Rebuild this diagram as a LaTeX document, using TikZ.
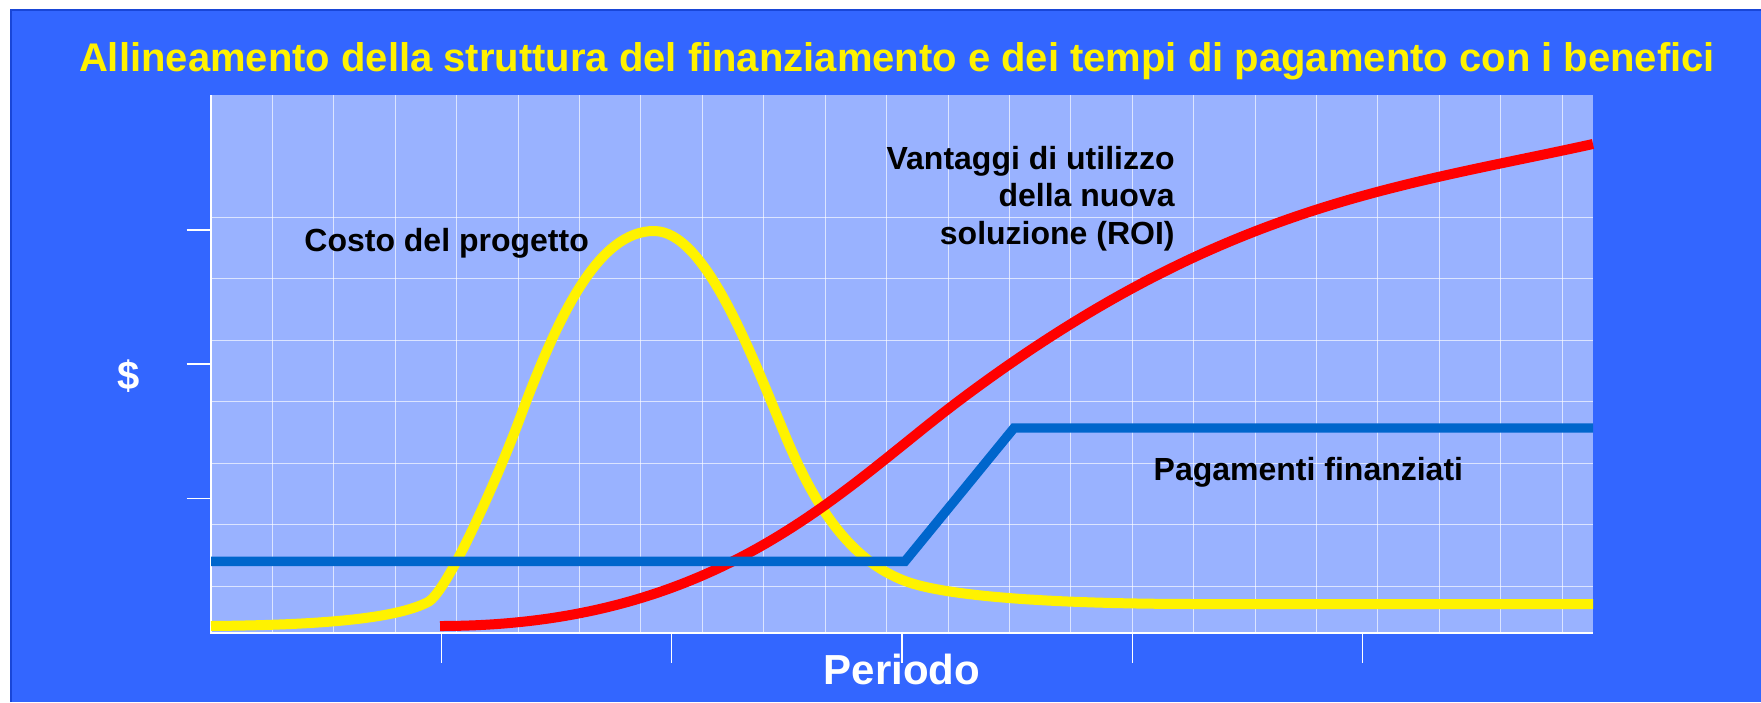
\documentclass[tikz,border=0pt]{standalone}
\usepackage{fontspec}
\setmainfont{Liberation Sans}
\definecolor{slideblue}{RGB}{51,102,255}
\definecolor{edgeblue}{RGB}{25,70,215}
\definecolor{plotblue}{RGB}{153,178,255}
\definecolor{payblue}{RGB}{0,102,204}

\begin{document}
\begin{tikzpicture}[x=0.5pt,y=-0.5pt,
	gridline/.style={white,opacity=0.65,line width=0.5pt},
	axtick/.style={white,line width=0.8pt},
	curvelabel/.style={font=\bfseries\fontsize{16}{18.65}\selectfont,inner sep=0pt}]
\useasboundingbox (0,0) rectangle (1761,702);
\fill[white] (0,0) rectangle (1761,702);
\fill[slideblue] (11,10) rectangle (1761,702);
\draw[edgeblue,line width=1pt] (11,702) -- (11,10) -- (1761,10);
\node[yellow,font=\bfseries\fontsize{20}{24}\selectfont,anchor=base] (titolo) at (897,71) {Allineamento della struttura del finanziamento e dei tempi di pagamento con i benefici};
\fill[plotblue] (211,95) rectangle (1593,632.7);
\foreach \i in {1,...,22}
{
	\draw[gridline] (211+\i*61.42,95) -- (211+\i*61.42,632.7);
}
\foreach \j in {0,...,6}
{
	\draw[gridline] (211,217.3+\j*61.45) -- (1593,217.3+\j*61.45);
}
\draw[white,line width=0.8pt] (211,95) -- (211,632.7) -- (1593,632.7);
\foreach \k in {1,2,3}
{
	\draw[axtick] (186.7,632.7-\k*134.3) -- (211,632.7-\k*134.3);
}
\foreach \k in {1,...,5}
{
	\draw[axtick] (211+\k*230.33,632.7) -- (211+\k*230.33,663.3);
}
\draw[yellow,line width=5pt] (211,626) .. controls (320,625) and (395,619) .. (428,602)
	.. controls (448,591.6) and (500,472) .. (520,418)
	.. controls (560,310) and (600,231) .. (654,231)
	.. controls (705,231) and (750,351) .. (785,435)
	.. controls (815,507) and (850,560) .. (905,581)
	.. controls (945,596.2) and (1050,604) .. (1200,604) -- (1593,604);
\draw[red,line width=5pt] (440,626) .. controls (720,626) and (840,490) .. (960,400)
	.. controls (1220,205) and (1393,188) .. (1593,144);
\draw[payblue,line width=4.7pt] (211,561.3) -- (905,561.3) -- (1014,428) -- (1593,428);
\node[curvelabel,anchor=base west] (costo) at (304,251.7) {Costo del progetto};
\node[curvelabel,anchor=base east,align=right] (vantaggi) at (1175,244) {Vantaggi di utilizzo\\della nuova\\soluzione (ROI)};
\node[curvelabel,anchor=base west] (pagamenti) at (1153.3,480) {Pagamenti finanziati};
\node[white,font=\bfseries\fontsize{20}{24}\selectfont] (dollaro) at (129,376) {\$};
\node[white,font=\bfseries\fontsize{21}{25}\selectfont,anchor=base] (periodo) at (902,684.3) {Periodo};
\end{tikzpicture}
\end{document}
